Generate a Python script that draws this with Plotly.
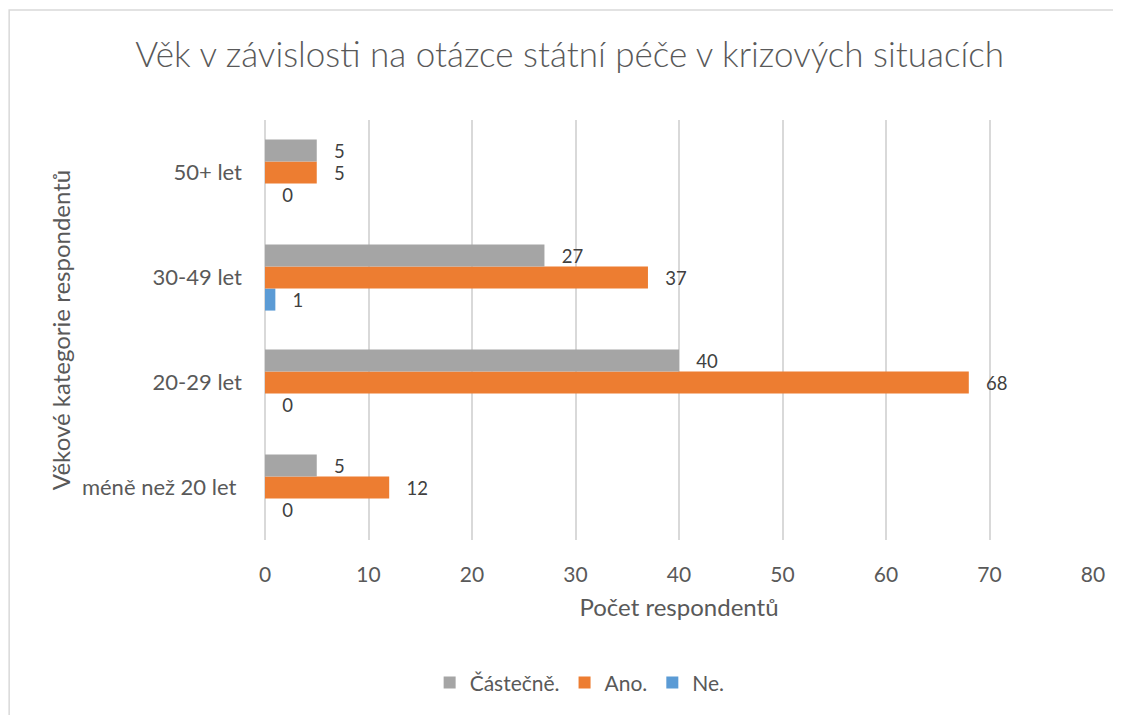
import plotly.graph_objs as go

categories = ["méně než 20 let ", "20-29 let", "30-49 let", "50+ let"]
castecne = [5, 40, 27, 5]
ano = [12, 68, 37, 5]
ne = [0, 0, 1, 0]

font = "Lato, Calibri, Carlito, sans-serif"
grey_txt = "#595959"

# plotly stacks the first trace at the bottom of each group
series = [("Ne.", ne, "#5b9bd5"), ("Ano.", ano, "#ed7d31"), ("Částečně.", castecne, "#a5a5a5")]

traces = []
for name, vals, col in series:
    traces.append(go.Bar(y=categories, x=vals, orientation="h", name=name,
                         marker={"color": col, "line": {"width": 0}},
                         text=vals, texttemplate="   %{x}", textposition="outside", cliponaxis=False,
                         textfont={"size": 21, "color": "#404040", "family": font}))

fig = go.Figure(traces)
# page body has an 8px offset, margins are set against that
fig.update_layout(
    width=1121, height=715,
    font={"family": font, "color": grey_txt},
    paper_bgcolor="white", plot_bgcolor="white",
    margin={"l": 257, "r": 36, "t": 112, "b": 183},
    barmode="group", bargap=0.37, bargroupgap=0,
    title={"text": "Věk v závislosti na otázce státní péče v krizových situacích",
           "x": 0.501, "xanchor": "center", "y": 0.934, "yanchor": "middle",
           "font": {"size": 35, "color": grey_txt, "family": font, "weight": 300}},
    legend={"orientation": "h", "x": 0.38, "xanchor": "center", "y": -0.34, "yanchor": "middle",
            "traceorder": "reversed", "itemwidth": 30, "font": {"size": 21, "color": grey_txt}},
    shapes=[{"type": "rect", "xref": "paper", "yref": "paper",
             "x0": -0.309, "x1": 1.1, "y0": -0.6, "y1": 1.262,
             "line": {"color": "#d9d9d9", "width": 1.5}, "layer": "below"}],
)
fig.update_xaxes(range=[0, 80], dtick=10, showgrid=True, gridcolor="#d9d9d9", gridwidth=1.5,
                 zeroline=True, zerolinecolor="#d9d9d9", zerolinewidth=1.5, automargin=False,
                 ticks="", ticklabelstandoff=20, tickfont={"size": 21, "color": grey_txt},
                 title={"text": "Počet respondentů", "font": {"size": 24, "color": grey_txt}, "standoff": 14})
fig.update_yaxes(showgrid=False, ticks="", ticklabelstandoff=22, automargin=False,
                 tickfont={"size": 22, "color": grey_txt},
                 title={"text": "Věkové kategorie respondentů", "font": {"size": 24, "color": grey_txt}, "standoff": 4})

fig.write_html("out.html")
